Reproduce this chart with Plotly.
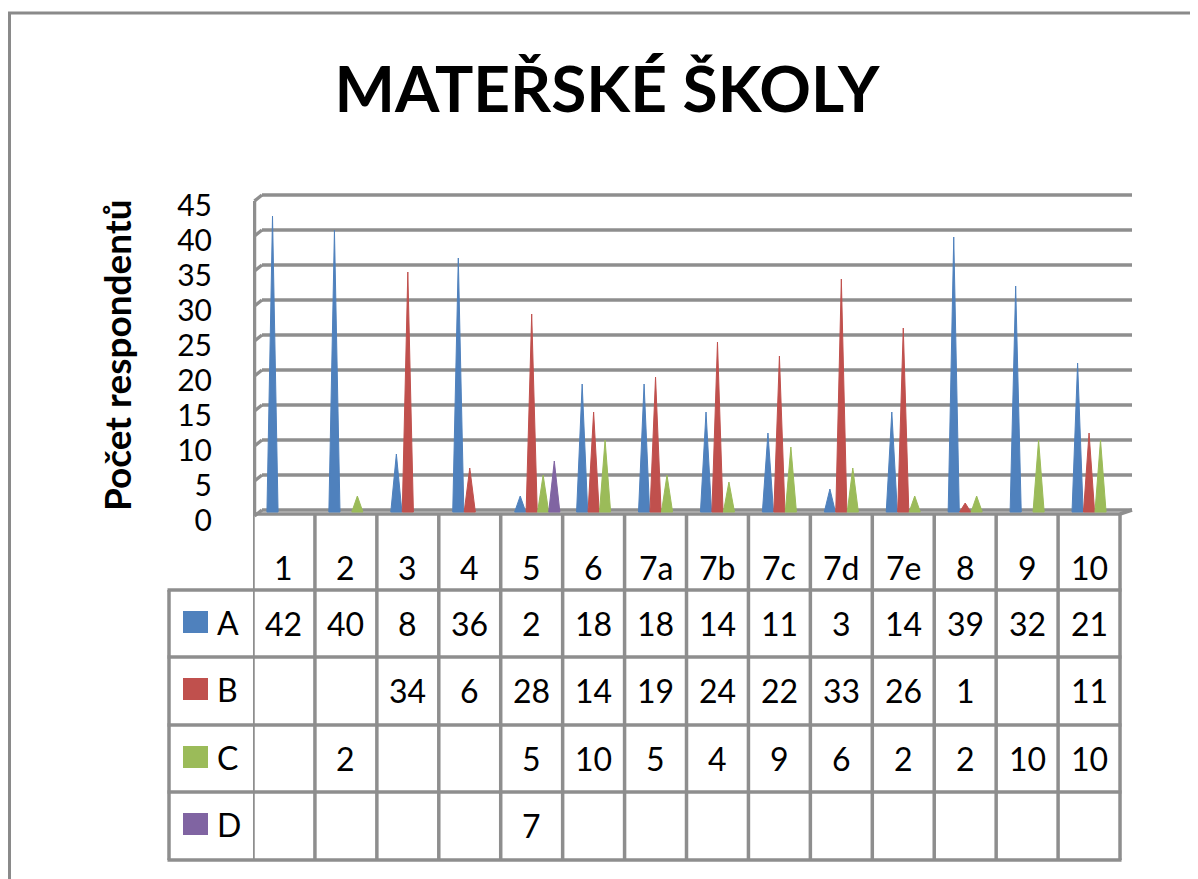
import plotly.graph_objects as go

# ---------------- data ----------------
categories = ["1", "2", "3", "4", "5", "6", "7a", "7b", "7c", "7d", "7e", "8", "9", "10"]
series_names = ["A", "B", "C", "D"]
values_A = [42, 40, 8, 36, 2, 18, 18, 14, 11, 3, 14, 39, 32, 21]
values_B = [None, None, 34, 6, 28, 14, 19, 24, 22, 33, 26, 1, None, 11]
values_C = [None, 2, None, None, 5, 10, 5, 4, 9, 6, 2, 2, 10, 10]
values_D = [None, None, None, None, 7, None, None, None, None, None, None, None, None, None]
y_ticks = [0, 5, 10, 15, 20, 25, 30, 35, 40, 45]
title_text = "MATEŘSKÉ ŠKOLY"
y_title = "Počet respondentů"

series_values = [values_A, values_B, values_C, values_D]
colors = ["#4F81BD", "#C0504D", "#9BBB59", "#8064A2"]
offsets = [-0.185, 0.0, 0.185, 0.365]   # cone position inside a category
half_w = 0.09

# ---------------- layout geometry ----------------
# design coordinates are window pixels; the page body adds an 8px margin
OFF = 8
W, H = 1198 - OFF, 879 - OFF
COL = 61.93          # px per category
X0PX = 253           # window px of category boundary -0.5
SCALE = 7.0          # px per value unit
Y0PX = 510           # window px of value 0
# plot area in window px
PL, PR, PT, PB = 253, 1140, 185, 522
L, R, T, B = PL - OFF, (W + OFF) - PR, PT - OFF, (H + OFF) - PB

x_lo = -0.5 + (PL - X0PX) / COL
x_hi = -0.5 + (PR - X0PX) / COL
y_lo = (Y0PX - PB) / SCALE
y_hi = (Y0PX - PT) / SCALE


def pxx(p):
    return (p - PL) / (PR - PL)


def pxy(p):
    return (PB - p) / (PB - PT)


def xdat(p):
    return -0.5 + (p - X0PX) / COL


def ydat(p):
    return (Y0PX - p) / SCALE


FONT = "Lato"
GRID = "#8e8e8e"

fig = go.Figure()

# ---------------- cones ----------------
for name, vals, col, off in zip(series_names, series_values, colors, offsets):
    xs, ys = [], []
    for i, v in enumerate(vals):
        if v is None or v == 0:
            continue
        c = i + off
        xs += [c - half_w, c, c + half_w, c - half_w, None]
        ys += [ydat(512), v, ydat(512), ydat(512), None]
    fig.add_trace(go.Scatter(
        x=xs, y=ys, mode="lines", fill="toself", fillcolor=col,
        line=dict(color=col, width=1), name=name, showlegend=False,
        hoverinfo="skip"))

shapes = []
line_style = dict(color=GRID, width=3.5)

# ---------------- back-wall gridlines ----------------
x_wall = xdat(254.5)
x_back = xdat(262)
x_right = xdat(1132)
drop = 6 / SCALE
for v in y_ticks:
    shapes.append(dict(type="line", xref="x", yref="y", x0=x_back, x1=x_right,
                       y0=v, y1=v, line=line_style, layer="below"))
    shapes.append(dict(type="line", xref="x", yref="y", x0=x_wall, x1=x_back,
                       y0=v - drop, y1=v, line=line_style, layer="below"))
# left wall
shapes.append(dict(type="line", xref="x", yref="y", x0=x_wall, x1=x_wall,
                   y0=ydat(514), y1=y_ticks[-1] - drop, line=line_style, layer="below"))
# floor front edge + right diagonal
shapes.append(dict(type="line", xref="x", yref="y", x0=-0.5, x1=len(categories) - 0.5,
                   y0=ydat(514), y1=ydat(514), line=line_style, layer="below"))
shapes.append(dict(type="line", xref="x", yref="y", x0=len(categories) - 0.5, x1=x_right,
                   y0=ydat(514), y1=0, line=line_style, layer="below"))

# ---------------- data table ----------------
row_top = 514
row_lines = [590, 657, 725, 792, 860]
leg_left = 169
x_end_px = X0PX + COL * len(categories)
for k in range(len(categories) + 1):
    shapes.append(dict(type="line", xref="x", yref="paper", x0=k - 0.5, x1=k - 0.5,
                       y0=pxy(row_top), y1=pxy(row_lines[-1]), line=line_style))
shapes.append(dict(type="line", xref="paper", yref="paper", x0=pxx(leg_left), x1=pxx(leg_left),
                   y0=pxy(row_lines[0]), y1=pxy(row_lines[-1]), line=line_style))
for ry in row_lines:
    shapes.append(dict(type="line", xref="paper", yref="paper", x0=pxx(leg_left - 1.5),
                       x1=pxx(x_end_px + 1.5), y0=pxy(ry), y1=pxy(ry), line=line_style))

# outer chart border
shapes.append(dict(type="rect", xref="paper", yref="paper", x0=pxx(9.5), x1=pxx(1230),
                   y0=pxy(13), y1=pxy(920), line=dict(color="#8a8a8a", width=3)))

annotations = []
txt_font = dict(family=FONT, size=32, color="#000000")
# category labels
for i, c in enumerate(categories):
    annotations.append(dict(xref="x", yref="paper", x=i, y=pxy(567), text=c,
                            showarrow=False, font=txt_font, xanchor="center", yanchor="middle"))
# value rows
row_centers = [623, 690, 758, 825]
for r, (name, vals, col) in enumerate(zip(series_names, series_values, colors)):
    cy = row_centers[r]
    for i, v in enumerate(vals):
        if v is None:
            continue
        annotations.append(dict(xref="x", yref="paper", x=i, y=pxy(cy), text=str(v),
                                showarrow=False, font=txt_font, xanchor="center", yanchor="middle"))
    shapes.append(dict(type="rect", xref="paper", yref="paper", x0=pxx(183), x1=pxx(208),
                       y0=pxy(cy - 12), y1=pxy(cy + 10), fillcolor=col, line=dict(width=0)))
    annotations.append(dict(xref="paper", yref="paper", x=pxx(215), y=pxy(cy - 1), text=name,
                            showarrow=False, font=txt_font, xanchor="left", yanchor="middle"))

# y-axis title
annotations.append(dict(xref="paper", yref="paper", x=pxx(116), y=pxy(355), text=y_title,
                        textangle=-90, showarrow=False, xanchor="center", yanchor="middle",
                        font=dict(family=FONT, size=37, color="#000000", weight="bold")))

fig.update_layout(
    width=W, height=H,
    margin=dict(l=L, r=R, t=T, b=B),
    paper_bgcolor="white", plot_bgcolor="white",
    showlegend=False,
    title=dict(text=title_text, x=(607 - OFF) / W, xanchor="center", xref="container",
               y=1 - (90 - OFF) / H, yanchor="middle", yref="container",
               font=dict(family=FONT, size=64, color="#000000", weight="bold")),
    xaxis=dict(range=[x_lo, x_hi], showgrid=False, zeroline=False, showline=False,
               showticklabels=False, ticks=""),
    yaxis=dict(range=[y_lo, y_hi], showgrid=False, zeroline=False, showline=False,
               tickmode="array", tickvals=y_ticks, ticktext=[str(t) for t in y_ticks],
               ticks="", ticklabelstandoff=40, ticklabelshift=10,
               tickfont=dict(family=FONT, size=30, color="#000000")),
    shapes=shapes,
    annotations=annotations,
)

fig.write_html("out.html")
